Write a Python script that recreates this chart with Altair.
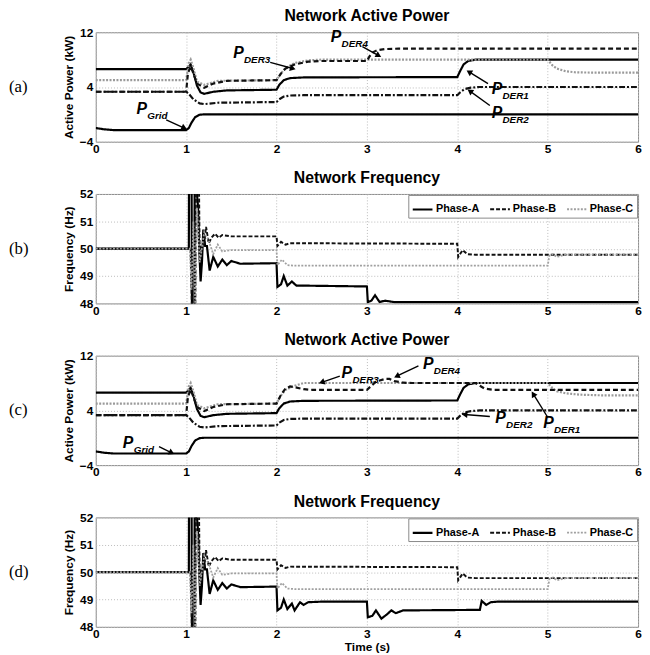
import math
import altair as alt
import pandas as pd

# ---------------- data ----------------
# Panel (a) active power (kW)
A_GRID_T = [0, 0.1, 0.2, 1.0, 1.03, 1.06, 1.1, 1.15, 1.2, 6]
A_GRID_V = [-2.0, -2.2, -2.3, -2.3, -2.0, -1.2, -0.4, -0.05, 0, 0]

A_DER1_T = [0, 1.0, 1.03, 1.05, 1.08, 1.12, 1.16, 1.2, 1.3, 1.45, 2.0, 2.03, 2.08, 2.15, 2.3, 4.0, 4.03, 4.07, 4.12, 4.2, 6]
A_DER1_V = [6.6, 6.6, 7.0, 7.3, 6.2, 4.2, 3.2, 3.0, 3.3, 3.5, 3.6, 4.3, 5.0, 5.3, 5.4, 5.45, 6.3, 7.3, 7.8, 8.0, 8.0]

A_DER2_T = [0, 1.0, 1.03, 1.08, 1.15, 1.2, 1.35, 2.0, 2.03, 2.08, 2.15, 2.3, 4.0, 4.03, 4.08, 4.15, 4.25, 6]
A_DER2_V = [3.3, 3.3, 3.0, 2.2, 1.6, 1.5, 1.7, 1.8, 2.2, 2.6, 2.75, 2.8, 2.8, 3.2, 3.7, 3.9, 4.0, 4.0]

A_DER3_T = [0, 1.0, 1.03, 1.05, 1.08, 1.12, 1.2, 1.35, 2.0, 2.05, 2.1, 2.2, 2.35, 2.5, 5.0, 5.05, 5.1, 5.2, 5.3, 5.5, 6]
A_DER3_V = [5.0, 5.0, 7.5, 8.0, 6.8, 4.8, 4.3, 4.9, 5.0, 6.0, 6.8, 7.5, 7.9, 8.0, 8.0, 7.2, 6.7, 6.3, 6.15, 6.1, 6.1]

A_DER4_T = [0, 1.0, 1.02, 1.05, 1.08, 1.12, 1.2, 1.3, 1.45, 2.0, 2.05, 2.1, 2.2, 2.35, 2.5, 3.0, 3.03, 3.07, 3.12, 3.2, 3.35, 6]
A_DER4_V = [3.3, 3.3, 6.0, 7.0, 6.0, 4.5, 3.9, 4.5, 4.9, 5.0, 6.0, 6.7, 7.3, 7.7, 7.8, 7.8, 8.5, 9.1, 9.4, 9.55, 9.6, 9.6]

# Panel (c) active power (kW)
C_DER3_T = [0, 1.0, 1.03, 1.05, 1.08, 1.12, 1.2, 1.35, 2.0, 2.05, 2.1, 2.2, 2.3, 5.0, 5.05, 5.1, 5.2, 5.35, 5.6, 6]
C_DER3_V = [5.0, 5.0, 7.5, 8.0, 6.8, 4.8, 4.3, 4.9, 5.0, 6.2, 7.0, 7.6, 8.0, 8.0, 7.3, 6.8, 6.5, 6.3, 6.2, 6.2]

C_DER4_T = [0, 1.0, 1.02, 1.05, 1.08, 1.12, 1.2, 1.3, 1.45, 2.0, 2.05, 2.1, 2.15, 2.2, 2.3, 2.4, 3.0, 3.05, 3.1, 3.2, 3.25, 3.3, 3.4, 3.5, 4.2, 4.25, 4.3, 4.4, 6]
C_DER4_V = [3.3, 3.3, 6.0, 7.0, 6.0, 4.5, 3.9, 4.5, 4.9, 5.0, 6.3, 7.2, 7.5, 7.4, 7.1, 7.0, 7.0, 7.6, 8.2, 8.6, 8.6, 8.3, 8.05, 8.0, 8.0, 7.6, 7.2, 7.0, 7.0]

# Panel (b) frequency (Hz)
B_A_T = [0, 1.03, 1.032, 1.06, 1.065, 1.09, 1.095, 1.13, 1.145, 1.16, 1.175, 1.19, 1.21, 1.23, 1.26, 1.3, 1.35, 1.4, 1.45, 1.5, 1.6, 2.0,
         2.01, 2.05, 2.08, 2.12, 2.17, 2.22, 2.3, 3.0, 3.01, 3.05, 3.09, 3.14, 3.2, 3.3, 6]
B_A_V = [50, 50, 53, 53, 47, 47, 53, 51.6, 50, 48.8, 49.5, 50.7, 50.1, 50.1, 49.2, 49.7, 49.35, 49.6, 49.4, 49.55, 49.45, 49.47,
         48.6, 48.7, 49.0, 48.65, 48.8, 48.65, 48.65, 48.62, 48.05, 48.1, 48.3, 48.05, 48.1, 48.05, 48.05]

B_B_T = [0, 1.05, 1.07, 1.1, 1.11, 1.14, 1.15, 1.17, 1.2, 1.22, 1.25, 1.28, 1.32, 1.36, 1.4, 1.5, 2.0, 2.01, 2.05, 2.1, 2.15, 4.0, 4.01, 4.06, 4.11, 4.2, 6]
B_B_V = [50, 50, 47, 47, 53, 53, 49.6, 50.1, 50.2, 50.8, 50.2, 50.4, 50.55, 50.4, 50.5, 50.45, 50.45, 50.1, 50.25, 50.15, 50.2, 50.18, 49.7, 49.95, 49.8, 49.78, 49.78]

B_C_T = [0, 1.04, 1.06, 1.08, 1.1, 1.12, 1.15, 1.2, 1.25, 1.3, 1.35, 1.4, 1.5, 2.0, 2.01, 2.06, 2.12, 2.2, 5.0, 5.02, 5.06, 5.1, 5.2, 6]
B_C_V = [50, 50, 48.5, 51, 48, 51.5, 49.5, 50.6, 50.3, 49.8, 50.15, 49.9, 49.95, 49.95, 49.4, 49.6, 49.4, 49.38, 49.38, 49.75, 49.8, 49.7, 49.78, 49.78]

# Panel (d) Phase-A frequency (Hz)
D_A_T = [0, 1.03, 1.032, 1.06, 1.065, 1.09, 1.095, 1.13, 1.145, 1.16, 1.175, 1.19, 1.21, 1.23, 1.26, 1.3, 1.35, 1.4, 1.45, 1.5, 1.6, 2.0,
         2.01, 2.05, 2.08, 2.12, 2.17, 2.2, 2.26, 2.3, 2.35, 2.5, 3.0, 3.01, 3.06, 3.1, 3.16, 3.22, 3.27, 3.32, 3.4, 4.25,
         4.27, 4.32, 4.37, 4.45, 6]
D_A_V = [50, 50, 53, 53, 47, 47, 53, 51.6, 50, 48.8, 49.5, 50.7, 50.1, 50.1, 49.2, 49.7, 49.35, 49.6, 49.4, 49.55, 49.45, 49.47,
         48.6, 48.7, 49.0, 48.65, 48.85, 48.6, 48.9, 48.8, 48.9, 48.92, 48.92, 48.35, 48.4, 48.6, 48.3, 48.45, 48.6, 48.5, 48.6, 48.62,
         48.95, 48.8, 48.9, 48.92, 48.92]

POWER_SERIES = ["Grid", "DER1", "DER2", "DER3", "DER4"]
POWER_COLORS = ["#000000", "#000000", "#111111", "#9a9a9a", "#111111"]
POWER_DASHES = [[1, 0], [1, 0], [6, 2, 2, 2], [2, 1.5], [5, 3]]
POWER_WIDTHS = [2.2, 2.2, 1.8, 1.6, 2.0]

PHASES = ["Phase-A", "Phase-B", "Phase-C"]
PHASE_COLORS = ["#000000", "#111111", "#a0a0a0"]
PHASE_DASHES = [[1, 0], [4, 2], [2, 1.5]]
PHASE_WIDTHS = [2.2, 1.8, 1.6]

# annotations: label subscript, P position (t, kW), arrow start, arrow end
A_ANN_SUB = ["Grid", "DER3", "DER4", "DER1", "DER2"]
A_ANN_PT = [0.45, 1.52, 2.6, 4.38, 4.38]
A_ANN_PV = [0.8, 8.9, 11.3, 3.7, 0.2]
A_ANN_AX = [0.78, 1.93, 2.95, 4.34, 4.36]
A_ANN_AY = [-0.8, 7.6, 9.9, 4.5, 1.3]
A_ANN_BX = [0.98, 2.18, 3.13, 4.13, 4.14]
A_ANN_BY = [-2.0, 6.7, 8.6, 6.2, 3.4]

C_ANN_SUB = ["Grid", "DER3", "DER4", "DER2", "DER1"]
C_ANN_PT = [0.3, 2.72, 3.62, 4.42, 4.95]
C_ANN_PV = [-0.8, 9.4, 10.8, 2.9, 2.2]
C_ANN_AX = [0.7, 2.7, 3.57, 4.36, 5.0]
C_ANN_AY = [-1.3, 9.0, 10.5, 3.1, 3.0]
C_ANN_BX = [0.84, 2.5, 3.33, 4.08, 4.84]
C_ANN_BY = [-2.2, 8.1, 9.0, 3.4, 6.4]

W, H = 550, 111
FONT = "Liberation Sans"


def long_df(series):
    rows = []
    for name, (ts, vs) in series.items():
        for i, (t, v) in enumerate(zip(ts, vs)):
            rows.append({"t": t, "v": v, "s": name, "i": i})
    return pd.DataFrame(rows)


def ann_df(sub, pt, pv, ax, ay, bx, by):
    rows = []
    for k in range(len(sub)):
        dxp = (bx[k] - ax[k]) * W / 6.0
        dyp = -(by[k] - ay[k]) * H / 16.0
        ang = math.degrees(math.atan2(dxp, -dyp)) % 360
        rows.append({"sub": sub[k], "pt": pt[k], "pv": pv[k], "ax": ax[k], "ay": ay[k],
                     "bx": bx[k], "by": by[k], "ang": ang})
    return pd.DataFrame(rows)


def xenc(field="t", title=None):
    return alt.X(f"{field}:Q", scale=alt.Scale(domain=[0, 6], nice=False),
                 axis=alt.Axis(values=[0, 1, 2, 3, 4, 5, 6], format="d", title=title, labelFlush=False))


def side_label(text):
    return alt.Chart(pd.DataFrame({"lab": [text]})).mark_text(
        font="Liberation Serif", fontSize=17, align="left", baseline="middle", color="black"
    ).encode(x=alt.value(-88), y=alt.value(H / 2), text="lab:N")


def title(text):
    return alt.TitleParams(text, fontSize=16, font=FONT, fontWeight="bold", anchor="middle", offset=2)


def power_panel(df, ann, label):
    y = alt.Y("v:Q", scale=alt.Scale(domain=[-4, 12], nice=False),
              axis=alt.Axis(values=[-4, 0, 4, 8, 12], title="Active Power (kW)"))
    lines = alt.Chart(df).mark_line(clip=True).encode(
        x=xenc(), y=y,
        color=alt.Color("s:N", scale=alt.Scale(domain=POWER_SERIES, range=POWER_COLORS), legend=None),
        strokeDash=alt.StrokeDash("s:N", scale=alt.Scale(domain=POWER_SERIES, range=POWER_DASHES), legend=None),
        strokeWidth=alt.StrokeWidth("s:N", scale=alt.Scale(domain=POWER_SERIES, range=POWER_WIDTHS), legend=None),
        order="i:Q",
    )
    base = alt.Chart(ann)
    ptxt = base.mark_text(font=FONT, fontSize=16, fontWeight="bold", fontStyle="italic",
                          align="left", baseline="middle", color="black").encode(
        x=alt.X("pt:Q"), y=alt.Y("pv:Q"), text=alt.value("P"))
    stxt = base.mark_text(font=FONT, fontSize=10, fontWeight="bold", fontStyle="italic",
                          align="left", baseline="middle", color="black", dx=11, dy=7).encode(
        x="pt:Q", y="pv:Q", text="sub:N")
    shaft = base.mark_rule(strokeWidth=1.4, color="black").encode(
        x="ax:Q", y="ay:Q", x2="bx:Q", y2="by:Q")
    head = base.mark_point(shape="triangle-up", filled=True, size=45, color="black", opacity=1).encode(
        x="bx:Q", y="by:Q",
        angle=alt.Angle("ang:Q", scale=alt.Scale(domain=[0, 360], range=[0, 360])))
    return alt.layer(lines, shaft, head, ptxt, stxt, side_label(label)).properties(
        width=W, height=H, title=title("Network Active Power"))


def freq_panel(df, label, xtitle=None):
    y = alt.Y("v:Q", scale=alt.Scale(domain=[48, 52], nice=False),
              axis=alt.Axis(values=[48, 49, 50, 51, 52], title="Frequency (Hz)"))
    leg = alt.Legend(title=None, orient="top-right", direction="horizontal", symbolType="stroke",
                     fillColor="white", strokeColor="#888", padding=3, offset=1,
                     labelFont=FONT, labelFontSize=11, labelFontWeight="bold", labelColor="black",
                     symbolSize=400, symbolStrokeWidth=2, columnPadding=6, labelOffset=2)
    lines = alt.Chart(df).mark_line(clip=True).encode(
        x=xenc(title=xtitle), y=y,
        color=alt.Color("s:N", scale=alt.Scale(domain=PHASES, range=PHASE_COLORS), legend=leg),
        strokeDash=alt.StrokeDash("s:N", scale=alt.Scale(domain=PHASES, range=PHASE_DASHES), legend=leg),
        strokeWidth=alt.StrokeWidth("s:N", scale=alt.Scale(domain=PHASES, range=PHASE_WIDTHS), legend=None),
        order="i:Q",
    )
    return alt.layer(lines, side_label(label)).properties(
        width=W, height=H, title=title("Network Frequency"))


df_a = long_df({"Grid": (A_GRID_T, A_GRID_V), "DER1": (A_DER1_T, A_DER1_V), "DER2": (A_DER2_T, A_DER2_V),
                "DER3": (A_DER3_T, A_DER3_V), "DER4": (A_DER4_T, A_DER4_V)})
df_c = long_df({"Grid": (A_GRID_T, A_GRID_V), "DER1": (A_DER1_T, A_DER1_V), "DER2": (A_DER2_T, A_DER2_V),
                "DER3": (C_DER3_T, C_DER3_V), "DER4": (C_DER4_T, C_DER4_V)})
df_b = long_df({"Phase-A": (B_A_T, B_A_V), "Phase-B": (B_B_T, B_B_V), "Phase-C": (B_C_T, B_C_V)})
df_d = long_df({"Phase-A": (D_A_T, D_A_V), "Phase-B": (B_B_T, B_B_V), "Phase-C": (B_C_T, B_C_V)})

ann_a = ann_df(A_ANN_SUB, A_ANN_PT, A_ANN_PV, A_ANN_AX, A_ANN_AY, A_ANN_BX, A_ANN_BY)
ann_c = ann_df(C_ANN_SUB, C_ANN_PT, C_ANN_PV, C_ANN_AX, C_ANN_AY, C_ANN_BX, C_ANN_BY)

chart = alt.vconcat(
    power_panel(df_a, ann_a, "(a)"),
    freq_panel(df_b, "(b)"),
    power_panel(df_c, ann_c, "(c)"),
    freq_panel(df_d, "(d)", xtitle="Time (s)"),
    spacing=14,
).resolve_scale(color="independent", strokeDash="independent", strokeWidth="independent").properties(
    padding={"left": 0, "top": -5, "right": 0, "bottom": 0}
).configure_view(stroke="#888", strokeWidth=1).configure_axis(
    labelFont=FONT, labelFontSize=12, labelFontWeight="bold", labelColor="black", labelPadding=3,
    titleFont=FONT, titleFontSize=12, titleFontWeight="bold", titleColor="black", titlePadding=4,
    grid=True, gridDash=[1, 2], gridColor="#bbbbbb", gridWidth=1, ticks=False, domain=False,
).configure_axisX(labelPadding=2, titlePadding=2)

chart.save("out.html", embed_options={"renderer": "svg", "actions": False})
